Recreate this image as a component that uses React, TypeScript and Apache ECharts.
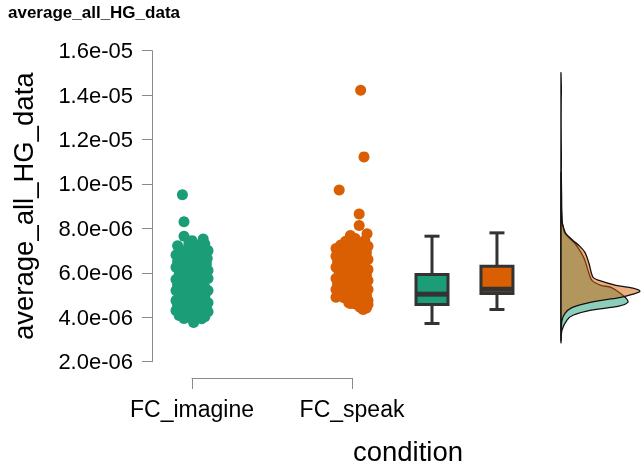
import React, { useEffect, useRef } from 'react';
import * as echarts from 'echarts';

// ---------- data (values in units of 1e-6) ----------
const categories = ['FC_imagine', 'FC_speak'];
const yTickMin = 2;
const yTickMax = 16;
const yTickStep = 2;

// jittered raw points: [jitter offset from category, value]
const imaginePoints: [number, number][] = [
  [-0.06, 9.52], [-0.05, 8.30],
  [-0.05, 7.65], [0.0, 7.45], [0.07, 7.52], [-0.09, 7.22], [0.1, 7.0], [-0.02, 7.3], [0.04, 7.25], [0.08, 7.3],
  [-0.08, 7.0], [-0.03, 7.05], [0.02, 6.95], [0.06, 7.1],
  [-0.1, 6.8], [-0.06, 6.75], [-0.01, 6.85], [0.03, 6.7], [0.07, 6.8], [0.095, 6.65],
  [-0.09, 6.5], [-0.04, 6.55], [0.0, 6.45], [0.05, 6.5], [0.09, 6.4],
  [-0.1, 6.25], [-0.06, 6.2], [-0.02, 6.3], [0.02, 6.15], [0.06, 6.25], [0.1, 6.1],
  [-0.08, 5.95], [-0.03, 6.0], [0.01, 5.9], [0.05, 5.95], [0.08, 5.85],
  [-0.1, 5.7], [-0.05, 5.75], [-0.01, 5.65], [0.03, 5.7], [0.07, 5.6], [0.1, 5.75],
  [-0.09, 5.45], [-0.04, 5.5], [0.0, 5.4], [0.04, 5.45], [0.08, 5.35],
  [-0.1, 5.2], [-0.06, 5.25], [-0.02, 5.15], [0.02, 5.2], [0.06, 5.1], [0.1, 5.2],
  [-0.08, 4.95], [-0.04, 5.0], [0.0, 4.9], [0.04, 5.0], [0.08, 4.95],
  [-0.1, 4.75], [-0.05, 4.7], [-0.01, 4.8], [0.03, 4.72], [0.07, 4.78], [0.1, 4.65],
  [-0.09, 4.5], [-0.04, 4.55], [0.01, 4.45], [0.05, 4.55], [0.09, 4.48],
  [-0.1, 4.3], [-0.06, 4.25], [-0.02, 4.35], [0.02, 4.28], [0.06, 4.3], [0.1, 4.25],
  [-0.08, 4.08], [-0.03, 4.05], [0.03, 4.1], [0.08, 4.02],
  [-0.05, 3.95], [0.01, 3.9], [0.06, 3.93],
  [0.01, 3.76],
];

const speakPoints: [number, number][] = [
  [0.054, 14.22], [0.075, 11.22], [-0.08, 9.73], [0.045, 8.65], [0.045, 8.13],
  [0.094, 7.76], [-0.01, 7.68], [0.02, 7.55], [-0.04, 7.42], [0.08, 7.45], [-0.07, 7.25], [-0.1, 7.1], [0.05, 7.3], [0.1, 7.2], [0.0, 7.2],
  [-0.08, 6.95], [-0.04, 7.0], [0.02, 6.95], [0.06, 7.05], [0.09, 6.9],
  [-0.1, 6.75], [-0.05, 6.7], [-0.01, 6.8], [0.03, 6.7], [0.07, 6.75], [0.1, 6.6],
  [-0.09, 6.5], [-0.04, 6.45], [0.0, 6.55], [0.04, 6.4], [0.08, 6.5],
  [-0.1, 6.25], [-0.06, 6.2], [-0.02, 6.3], [0.02, 6.2], [0.06, 6.25], [0.1, 6.15],
  [-0.08, 6.0], [-0.03, 5.95], [0.01, 6.05], [0.05, 5.95], [0.09, 5.9],
  [-0.1, 5.75], [-0.05, 5.8], [-0.01, 5.7], [0.03, 5.75], [0.07, 5.7], [0.1, 5.65],
  [-0.09, 5.5], [-0.04, 5.55], [0.0, 5.45], [0.04, 5.5], [0.08, 5.45],
  [-0.1, 5.25], [-0.06, 5.3], [-0.02, 5.2], [0.02, 5.3], [0.06, 5.2], [0.1, 5.25],
  [-0.08, 5.05], [-0.03, 5.1], [0.01, 5.0], [0.05, 5.05], [0.09, 5.0],
  [-0.1, 4.9], [-0.05, 4.88], [0.0, 4.8], [0.03, 4.85], [0.07, 4.78], [0.1, 4.75],
  [-0.02, 4.65], [0.02, 4.6], [0.06, 4.62], [0.1, 4.58],
  [0.05, 4.45], [0.09, 4.42], [-0.01, 4.62], [0.07, 4.35],
];

// box stats: [min, Q1, median, Q3, max]
const imagineBox = [3.72, 4.57, 5.04, 5.92, 7.65];
const speakBox = [4.35, 5.07, 5.26, 6.30, 7.80];

// densities (relative, peak = 1) at value levels
const speakDensityLevels = [2.88, 3.42, 3.87, 4.18, 4.41, 4.59, 4.77, 4.90, 5.04, 5.17, 5.31, 5.44, 5.66, 5.80, 6.43, 6.92, 7.23, 7.46, 7.77, 8.22, 8.6, 9.0, 9.7, 10.5, 11.2, 12.0, 13.0, 13.8, 14.2, 14.6, 14.99];
const speakDensity = [0, 0.003, 0.013, 0.051, 0.127, 0.278, 0.532, 0.759, 0.911, 1.0, 0.911, 0.696, 0.481, 0.405, 0.354, 0.304, 0.228, 0.152, 0.063, 0.019, 0.012, 0.009, 0.007, 0.004, 0.005, 0.003, 0.002, 0.003, 0.005, 0.003, 0];
const imagineDensityLevels = [2.97, 3.42, 3.87, 4.09, 4.32, 4.50, 4.68, 4.86, 5.13, 5.35, 5.44, 5.66, 6.11, 6.56, 6.92, 7.32, 7.77, 8.0, 8.3, 8.6, 9.0, 9.5, 9.9, 10.5];
const imagineDensity = [0, 0.013, 0.076, 0.152, 0.380, 0.734, 0.848, 0.823, 0.734, 0.633, 0.506, 0.392, 0.342, 0.304, 0.253, 0.177, 0.051, 0.032, 0.013, 0.008, 0.005, 0.006, 0.003, 0];

// ---------- layout / style constants ----------
const COLORS = ['#1B9E77', '#D95F02'];
const DENS_FILL = ['rgba(27,158,119,0.5)', 'rgba(217,95,2,0.5)'];
const BOX_X = [2.5, 2.906];
const DENS_X = 3.306;
const DENS_PX = 79;
const FONT = 'Liberation Sans, Arial, Helvetica, sans-serif';
const AXIS_GRAY = '#8a8a8a';

function fmtExp(v: number) {
  const s = (v * 1e-6).toExponential(1);
  return s.replace(/e([+-])(\d+)$/, (_m: string, sg: string, d: string) => 'e' + sg + d.padStart(2, '0'));
}

function densitySeries(levels: number[], dens: number[], idx: number) {
  return {
    type: 'custom',
    xAxisIndex: 0,
    yAxisIndex: 0,
    z: 3 + idx,
    data: [[DENS_X, levels[0]]],
    renderItem: (_params: any, api: any) => {
      const base = api.coord([DENS_X, levels[0]])[0];
      const pts = levels.map((v, i) => {
        const p = api.coord([DENS_X, v]);
        return [base + dens[i] * DENS_PX, p[1]];
      });
      return {
        type: 'polygon',
        shape: { points: pts, smooth: 0.3 },
        style: { fill: DENS_FILL[idx], stroke: '#111', lineWidth: 1.3 },
      };
    },
  };
}

export default function App() {
  const ref = useRef<HTMLDivElement>(null);
  useEffect(() => {
    const chart = echarts.init(ref.current!, null, { renderer: 'svg' });
    const option: any = {
      animation: false,
      textStyle: { fontFamily: FONT },
      title: {
        text: 'average_all_HG_data',
        left: 8,
        top: 4,
        padding: 0,
        textStyle: { fontSize: 17, fontWeight: 'bold', color: '#000', fontFamily: FONT },
      },
      grid: [
        { left: 152, top: 50.7, width: 480, height: 311 },
        { left: 192, top: 377, width: 160, height: 1 },
      ],
      xAxis: [
        { type: 'value', gridIndex: 0, min: 0.75, max: 3.75, show: false },
        {
          type: 'value',
          gridIndex: 1,
          min: 1,
          max: 2,
          interval: 1,
          position: 'bottom',
          axisLine: { show: true, lineStyle: { color: AXIS_GRAY, width: 1 } },
          axisTick: { show: true, length: 11, lineStyle: { color: AXIS_GRAY, width: 1 } },
          splitLine: { show: false },
          axisLabel: {
            show: true,
            showMinLabel: true,
            showMaxLabel: true,
            margin: 19,
            fontSize: 23,
            color: '#000',
            fontFamily: FONT,
            formatter: (v: number) => categories[Math.round(v) - 1] ?? '',
          },
        },
      ],
      yAxis: [
        {
          type: 'value',
          gridIndex: 0,
          min: yTickMin,
          max: yTickMax,
          interval: yTickStep,
          name: 'average_all_HG_data',
          nameLocation: 'middle',
          nameGap: 115,
          nameTextStyle: { fontSize: 27.5, color: '#000', fontFamily: FONT },
          axisLine: { show: true, lineStyle: { color: AXIS_GRAY, width: 1 } },
          axisTick: { show: true, length: 10, lineStyle: { color: AXIS_GRAY, width: 1 } },
          splitLine: { show: false },
          axisLabel: { margin: 19, fontSize: 22, color: '#000', fontFamily: FONT, formatter: fmtExp },
        },
        { type: 'value', gridIndex: 1, show: false, min: 0, max: 1 },
      ],
      graphic: [
        {
          type: 'text',
          x: 408,
          y: 451,
          style: { text: 'condition', fontSize: 27.5, fill: '#000', fontFamily: FONT, align: 'center', verticalAlign: 'middle' },
        },
      ],
      series: [
        {
          type: 'scatter',
          xAxisIndex: 0,
          yAxisIndex: 0,
          symbolSize: 11,
          itemStyle: { color: COLORS[0], opacity: 1 },
          data: imaginePoints.map(([j, v]) => [1 + j, v]),
        },
        {
          type: 'scatter',
          xAxisIndex: 0,
          yAxisIndex: 0,
          symbolSize: 11,
          itemStyle: { color: COLORS[1], opacity: 1 },
          data: speakPoints.map(([j, v]) => [2 + j, v]),
        },
        {
          type: 'custom',
          xAxisIndex: 0,
          yAxisIndex: 0,
          encode: { x: 0, y: [1, 2, 3, 4, 5] },
          data: [
            [BOX_X[0], ...imagineBox],
            [BOX_X[1], ...speakBox],
          ],
          renderItem: (params: any, api: any) => {
            const x = api.value(0);
            const pMin = api.coord([x, api.value(1)]);
            const pQ1 = api.coord([x, api.value(2)]);
            const pMd = api.coord([x, api.value(3)]);
            const pQ3 = api.coord([x, api.value(4)]);
            const pMax = api.coord([x, api.value(5)]);
            const cx = pMin[0];
            const hw = 16;
            const cw = 7.5;
            const ls = { stroke: '#333', lineWidth: 3 };
            return {
              type: 'group',
              children: [
                { type: 'line', shape: { x1: cx, y1: pMax[1], x2: cx, y2: pQ3[1] }, style: ls },
                { type: 'line', shape: { x1: cx, y1: pQ1[1], x2: cx, y2: pMin[1] }, style: ls },
                { type: 'line', shape: { x1: cx - cw, y1: pMax[1], x2: cx + cw, y2: pMax[1] }, style: ls },
                { type: 'line', shape: { x1: cx - cw, y1: pMin[1], x2: cx + cw, y2: pMin[1] }, style: ls },
                {
                  type: 'rect',
                  shape: { x: cx - hw, y: pQ3[1], width: 2 * hw, height: pQ1[1] - pQ3[1] },
                  style: { fill: COLORS[params.dataIndex], stroke: '#333', lineWidth: 3 },
                },
                { type: 'line', shape: { x1: cx - hw, y1: pMd[1], x2: cx + hw, y2: pMd[1] }, style: { stroke: '#333', lineWidth: 5 } },
              ],
            };
          },
        },
        densitySeries(imagineDensityLevels, imagineDensity, 0),
        densitySeries(speakDensityLevels, speakDensity, 1),
      ],
    };
    chart.setOption(option);
    return () => chart.dispose();
  }, []);
  return <div ref={ref} style={{ position: 'fixed', left: 0, top: 0, width: 641, height: 468 }} />;
}
